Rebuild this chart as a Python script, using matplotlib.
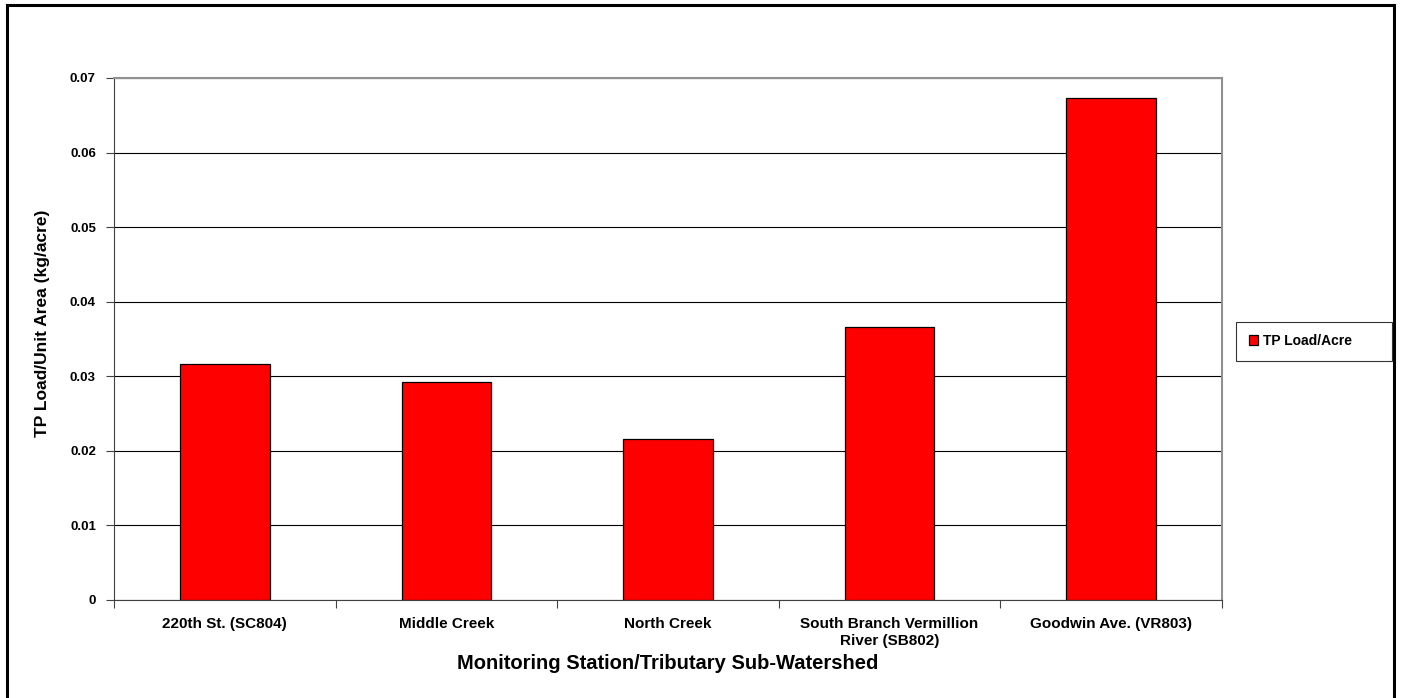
import matplotlib
matplotlib.use("Agg")
import matplotlib.pyplot as plt
import numpy as np

categories = ["220th St. (SC804)", "Middle Creek", "North Creek",
              "South Branch Vermillion\nRiver (SB802)", "Goodwin Ave. (VR803)"]
values = [0.0317, 0.0292, 0.0216, 0.0366, 0.0673]
yticks = [0, 0.01, 0.02, 0.03, 0.04, 0.05, 0.06, 0.07]
ytick_labels = ["0", "0.01", "0.02", "0.03", "0.04", "0.05", "0.06", "0.07"]
series_name = "TP Load/Acre"

plt.rcParams['font.family'] = ['Liberation Sans', 'DejaVu Sans']

W, H = 1401, 698
fig = plt.figure(figsize=(W/100, H/100), dpi=100)

# outer frame (open at bottom)
fig.add_artist(plt.Line2D([7/W, 7/W], [0, 1-5/H], color='black', lw=2.2, transform=fig.transFigure))
fig.add_artist(plt.Line2D([7/W, 1394/W], [1-5/H, 1-5/H], color='black', lw=2.2, transform=fig.transFigure))
fig.add_artist(plt.Line2D([1394/W, 1394/W], [0, 1-5/H], color='black', lw=2.2, transform=fig.transFigure))

left, right, top, bottom = 114, 1222, 78, 600
ax = fig.add_axes([left/W, 1-bottom/H, (right-left)/W, (bottom-top)/H])

x = np.arange(len(categories))
bars = ax.bar(x, values, width=0.405, color='#ff0000', edgecolor='black', linewidth=0.9,
              zorder=3, label=series_name)

ax.set_xlim(-0.5, len(categories)-0.5)
ax.set_ylim(0, 0.07)
ax.set_yticks(yticks)
ax.set_yticklabels(ytick_labels, fontsize=9.5, fontweight='bold')
ax.yaxis.grid(True, color='black', lw=0.8, zorder=0)

# category labels between boundary ticks
ax.set_xticks(np.arange(-0.5, len(categories)), minor=False)
ax.set_xticklabels([])
ax.tick_params(axis='x', length=6, color='#404040', width=0.8)
ax.set_xticks(x, minor=True)
ax.set_xticklabels(categories, minor=True, fontsize=11, fontweight='bold', linespacing=1.3)
ax.tick_params(axis='x', which='minor', length=0, pad=12)
ax.tick_params(axis='y', length=6, color='#404040', width=0.8, pad=7)

for s in ['top', 'right']:
    ax.spines[s].set_color('#909090')
    ax.spines[s].set_linewidth(1.5)
ax.spines['left'].set_color('#404040')
ax.spines['bottom'].set_color('#404040')

ax.set_xlabel("Monitoring Station/Tributary Sub-Watershed", fontsize=14.5, fontweight='bold', labelpad=4)
ax.set_ylabel("TP Load/Unit Area (kg/acre)", fontsize=12.5, fontweight='bold')
ax.yaxis.set_label_coords(-0.058, (600-323)/522)

leg = fig.legend(handles=[bars], labels=[series_name], loc='center', mode='expand',
                 bbox_to_anchor=(1236/W, 1-359/H, 156/W, 36/H), prop={'size': 10, 'weight': 'bold'},
                 frameon=True, fancybox=False, edgecolor='black', handlelength=0.7, handleheight=0.7,
                 borderpad=0.9, handletextpad=0.35, borderaxespad=0)
leg.get_frame().set_linewidth(0.8)

fig.savefig("out.png", dpi=100)
